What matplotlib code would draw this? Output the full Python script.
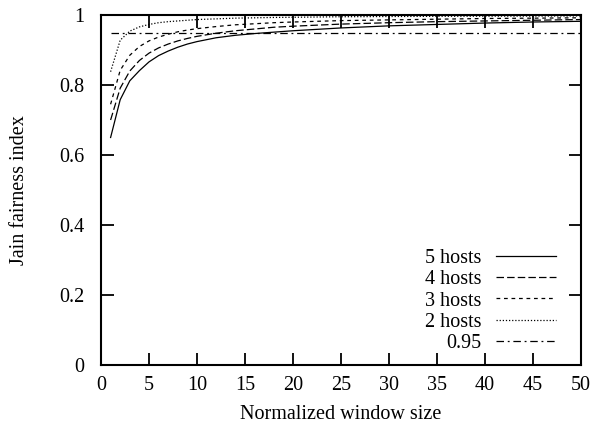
import matplotlib
matplotlib.use("Agg")
import matplotlib.pyplot as plt

# normalized window size samples
window = [1, 2, 3, 4, 5, 6, 7, 8, 9, 10, 12, 14, 16, 18, 20, 25, 30, 35, 40, 45, 50]

# Jain fairness index
hosts5 = [0.650, 0.758, 0.812, 0.841, 0.866, 0.884, 0.897, 0.908, 0.917, 0.924, 0.935,
          0.942, 0.947, 0.951, 0.955, 0.963, 0.969, 0.973, 0.977, 0.980, 0.982]
hosts4 = [0.700, 0.791, 0.840, 0.870, 0.891, 0.906, 0.917, 0.926, 0.933, 0.939, 0.948,
          0.955, 0.960, 0.965, 0.968, 0.974, 0.978, 0.981, 0.983, 0.985, 0.987]
hosts3 = [0.745, 0.842, 0.885, 0.910, 0.926, 0.937, 0.945, 0.952, 0.957, 0.961, 0.967,
          0.972, 0.975, 0.978, 0.980, 0.984, 0.986, 0.988, 0.990, 0.991, 0.992]
hosts2 = [0.838, 0.928, 0.954, 0.966, 0.973, 0.978, 0.981, 0.983, 0.985, 0.987, 0.989,
          0.991, 0.992, 0.993, 0.9935, 0.995, 0.9957, 0.9963, 0.9967, 0.997, 0.9974]
threshold = 0.95

plt.rcParams["font.family"] = ["Liberation Serif", "DejaVu Serif"]
plt.rcParams["font.size"] = 14.5

fig = plt.figure(figsize=(5.96, 4.25), dpi=100)
ax = fig.add_axes([101 / 596, 60 / 425, 480 / 596, 350 / 425])

lw = 0.9
ax.plot(window, hosts5, color="black", lw=lw, linestyle="-", label="5 hosts")
ax.plot(window, hosts4, color="black", lw=lw, linestyle=(0, (6, 2.5)), label="4 hosts")
ax.plot(window, hosts3, color="black", lw=lw, linestyle=(0, (3, 3)), label="3 hosts")
ax.plot(window, hosts2, color="black", lw=lw, linestyle=(0, (1, 1.5)), label="2 hosts")
ax.plot([window[0], window[-1]], [threshold, threshold], color="black", lw=lw,
        linestyle=(0, (6, 3, 1.5, 3)), label="0.95")

ax.set_xlim(0, 50)
ax.set_ylim(0, 1)
ax.set_xticks(range(0, 51, 5))
ax.set_yticks([0, 0.2, 0.4, 0.6, 0.8, 1])
ax.set_yticklabels(["0", "0.2", "0.4", "0.6", "0.8", "1"])
ax.tick_params(direction="in", length=9, width=1.3, top=True, right=True)
ax.tick_params(axis="x", pad=8)
ax.tick_params(axis="y", pad=12)
for s in ax.spines.values():
    s.set_linewidth(1.5)

ax.set_xlabel("Normalized window size", labelpad=7)
ax.set_ylabel("Jain fairness index", labelpad=22)

ax.legend(loc="lower right", bbox_to_anchor=(0.965, 0.012), frameon=False,
          markerfirst=False, handlelength=3.0, handletextpad=0.7, labelspacing=0.1,
          borderaxespad=0)

fig.savefig("out.png", dpi=100)
